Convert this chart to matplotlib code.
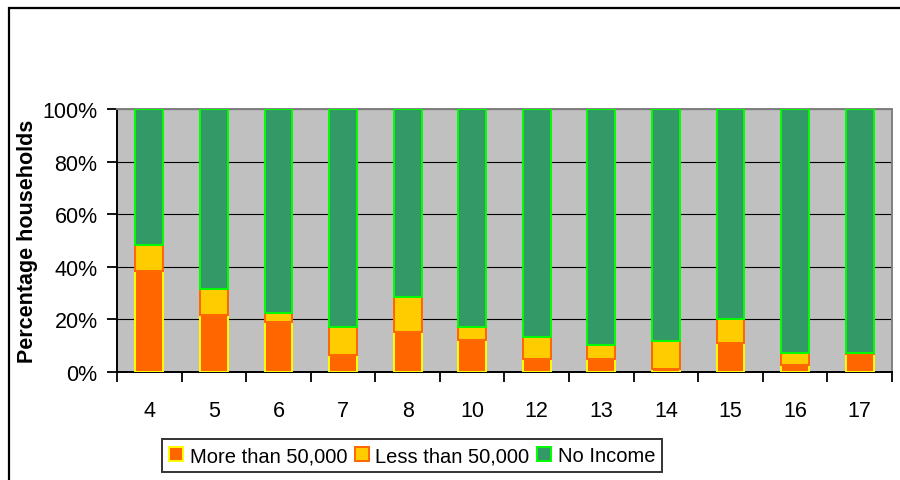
import matplotlib
matplotlib.use("Agg")
import matplotlib.pyplot as plt
from matplotlib.patches import Rectangle
import numpy as np

plt.rcParams["font.family"] = ["Liberation Sans", "DejaVu Sans"]

# household income shares per grade (percent of households)
grades = ["4", "5", "6", "7", "8", "10", "12", "13", "14", "15", "16", "17"]
more_than_50k = [38.5, 21.7, 18.9, 6.6, 15.1, 12.0, 5.0, 5.0, 1.1, 11.0, 2.8, 7.0]
less_than_50k = [9.8, 9.9, 3.6, 10.5, 13.3, 5.0, 8.3, 5.1, 10.6, 9.0, 4.4, 0.1]
no_income = [100 - a - b for a, b in zip(more_than_50k, less_than_50k)]

x = np.arange(len(grades))
width = 0.43

fig = plt.figure(figsize=(9, 4.81), dpi=100)
ax = fig.add_axes([0.13, 0.2245, 0.8611, 0.5468])
ax.set_facecolor("#C0C0C0")

ax.bar(x, more_than_50k, width, color="#FF6600", edgecolor="#FFFF00",
       linewidth=1.4, label="More than 50,000", zorder=3)
ax.bar(x, less_than_50k, width, bottom=more_than_50k, color="#FFCC00",
       edgecolor="#FF6600", linewidth=1.4, label="Less than 50,000", zorder=3)
bottom2 = [a + b for a, b in zip(more_than_50k, less_than_50k)]
ax.bar(x, no_income, width, bottom=bottom2, color="#339966",
       edgecolor="#00FF00", linewidth=1.4, label="No Income", zorder=3)

ax.set_xlim(-0.5, len(grades) - 0.5)
ax.set_ylim(0, 100)
ax.set_yticks(np.arange(0, 101, 20))
ax.set_yticklabels([f"{v}%" for v in range(0, 101, 20)])
ax.yaxis.grid(True, color="black", linewidth=0.8, zorder=1)
ax.set_axisbelow(True)

ax.set_xticks(x)
ax.set_xticklabels(grades)
ax.set_xticks(np.arange(-0.5, len(grades)), minor=True)
ax.tick_params(axis="x", which="major", length=0, pad=20, labelsize=15.5)
ax.tick_params(axis="x", which="minor", length=7, width=1.3, color="black")
ax.tick_params(axis="y", length=7, width=1.3, labelsize=15.5, pad=7)

ax.set_ylabel("Percentage households", fontsize=15.5, fontweight="bold")
ax.yaxis.set_label_coords(-0.102, 0.5)

for side in ("left", "bottom"):
    ax.spines[side].set_color("black")
    ax.spines[side].set_linewidth(1.4)
for side in ("top", "right"):
    ax.spines[side].set_color("#808080")
    ax.spines[side].set_linewidth(1.4)

leg = fig.legend(loc="center", bbox_to_anchor=(0.458, 0.05), ncol=3,
                 fontsize=14.5, frameon=True, fancybox=False,
                 handlelength=0.7, handleheight=0.7, handletextpad=0.3,
                 columnspacing=0.4, borderpad=0.35)
leg.get_frame().set_edgecolor("black")
leg.get_frame().set_linewidth(1.4)

# chart-area frame, running off the right and bottom edges
fig.patches.append(Rectangle((9 / 900, -0.2), 1.2, 1.2 - 8.5 / 481,
                             transform=fig.transFigure, fill=False,
                             edgecolor="black", linewidth=1.6))

fig.savefig("out.png", dpi=100)
